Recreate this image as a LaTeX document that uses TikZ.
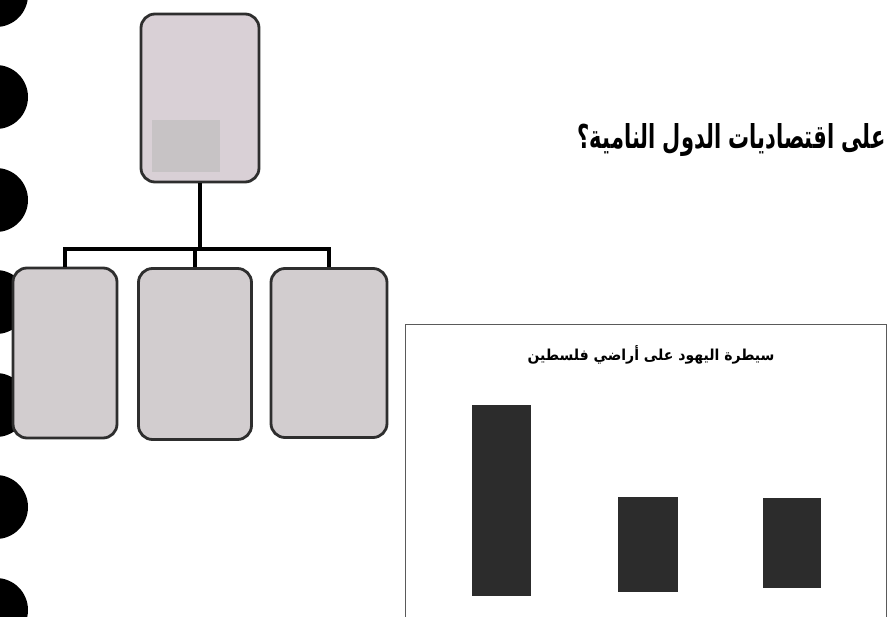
\documentclass[tikz,border=0pt]{standalone}
\usepackage{fontspec}
\TeXXeTstate=1
\newfontfamily\arabicfont[Script=Arabic]{DejaVu Sans}
\definecolor{boxfill}{HTML}{D9D0D6}
\definecolor{childfill}{HTML}{D2CDCF}
\definecolor{boxline}{HTML}{2E2E2E}
\definecolor{barfill}{HTML}{2C2C2C}
\definecolor{chartline}{HTML}{5A5A5A}
\tikzset{
  orgbox/.style={draw=boxline, line width=2.8pt, rounded corners=14pt, inner sep=0pt},
  conn/.style={draw=black, line width=3.4pt},
  blob/.style={fill=black},
  bar/.style={fill=barfill, draw=barfill, line width=1pt},
}
\begin{document}
\begin{tikzpicture}[x=1pt,y=-1pt]
\useasboundingbox (0,0) rectangle (890,617);
\clip (0,0) rectangle (890,617);
\fill[white] (0,0) rectangle (890,617);
% binding rings
\foreach \yy in {-5,97,200,302,405,507,610}
  \fill[blob] (-4,\yy) ellipse [x radius=32pt, y radius=32pt];
% org chart
\node[orgbox, fill=boxfill, minimum width=118pt, minimum height=168pt] (root) at (200,98) {};
\fill[childfill!95!black] (152,120) rectangle (220,172);
\node[orgbox, fill=childfill, minimum width=104pt, minimum height=170pt] (c1) at (65,353) {};
\node[orgbox, fill=childfill, minimum width=113pt, minimum height=171pt] (c2) at (195,354) {};
\node[orgbox, fill=childfill, minimum width=116pt, minimum height=169pt] (c3) at (329,353) {};
\coordinate (bus) at (0,249);
\draw[conn] (root.south) -- (root.south |- bus);
\draw[conn] (c1.north) -- (c1.north |- bus) -- (c3.north |- bus) -- (c3.north);
\draw[conn] (c2.north |- bus) -- (c2.north);
% question text
\node[anchor=base east, inner sep=0pt] (q) at (886,149)
  {\resizebox{308pt}{25pt}{\arabicfont\bfseries\beginR على اقتصاديات الدول النامية؟\endR}};
% chart frame
\node[draw=chartline, line width=1.2pt, anchor=north west, minimum width=481pt, minimum height=320pt, inner sep=0pt] (frame) at (405,324) {};
\node[inner sep=0pt] (title) at (651,355)
  {\resizebox{247pt}{15pt}{\arabicfont\bfseries\beginR سيطرة اليهود على أراضي فلسطين\endR}};
\node[bar, anchor=south west, minimum width=58pt, minimum height=190pt, inner sep=0pt] (b1) at (472,596) {};
\node[bar, anchor=south west, minimum width=59pt, minimum height=94pt, inner sep=0pt] (b2) at (618,592) {};
\node[bar, anchor=south west, minimum width=57pt, minimum height=89pt, inner sep=0pt] (b3) at (763,588) {};
\end{tikzpicture}
\end{document}
